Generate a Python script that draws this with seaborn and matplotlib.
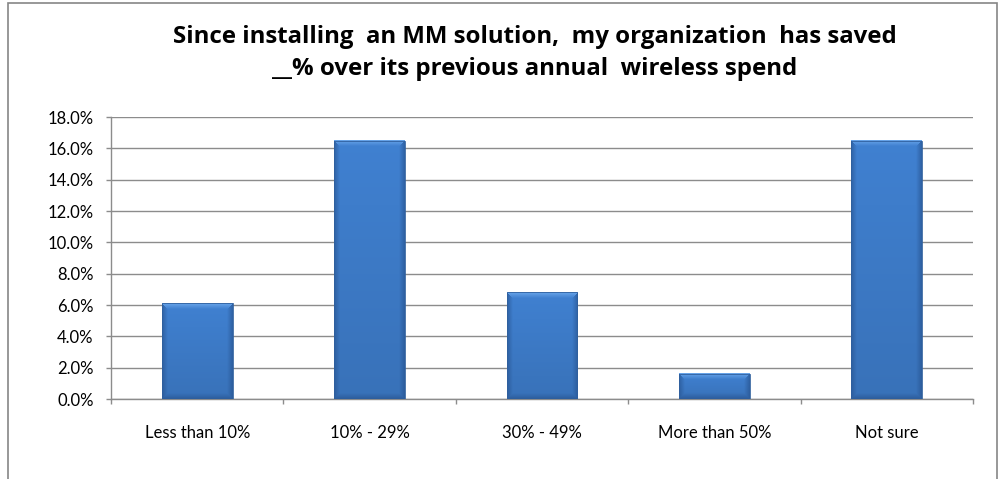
import numpy as np
import pandas as pd
import matplotlib
matplotlib.use("Agg")
import matplotlib.pyplot as plt
import seaborn as sns
from matplotlib.patches import Rectangle
from matplotlib.ticker import FuncFormatter, MultipleLocator
from matplotlib.colors import to_rgb

categories = ["Less than 10%", "10% - 29%", "30% - 49%", "More than 50%", "Not sure"]
values = [6.1, 16.5, 6.8, 1.6, 16.5]
title = "Since installing  an MM solution,  my organization  has saved\n__% over its previous annual  wireless spend"

sns.set_theme(style="white")
plt.rcParams['font.family'] = ['Lato', 'DejaVu Sans']

df = pd.DataFrame({"category": categories, "value": values})

fig = plt.figure(figsize=(9.99, 4.79), dpi=100)
ax = fig.add_axes([111/999, 1-399/479, (973-111)/999, (399-117)/479])

sns.barplot(data=df, x="category", y="value", color="#3e7dcb", width=0.41,
            edgecolor="none", linewidth=0, saturation=1, ax=ax, zorder=3)

ax.set_xlim(-0.5, len(categories) - 0.5)
ax.set_ylim(0, 18)

# bevel shading image for each bar (styling only)
base = np.array(to_rgb("#3e7dcb"))
light = np.array(to_rgb("#6aa6ea"))
dark = np.array(to_rgb("#27538f"))
px_per_x = (973 - 111) / 5.0
px_per_y = (399 - 117) / 18.0
bev = 6.0
for p in ax.patches:
    x0, y0 = p.get_x(), p.get_y()
    w, h = p.get_width(), p.get_height()
    wp = max(int(round(w * px_per_x)), 2)
    hp = max(int(round(h * px_per_y)), 2)
    xx, yy = np.meshgrid(np.arange(wp) + 0.5, np.arange(hp) + 0.5)  # yy from top
    dl, dr, dt, db = xx, wp - xx, yy, hp - yy
    img = np.tile(base, (hp, wp, 1))
    t = (yy / hp)[..., None]
    img = img * (1.03 - 0.12 * t)
    side = np.minimum(dl, dr)
    mside = np.clip(1 - side / bev, 0, 1)[..., None]
    mbot = np.clip(1 - db / bev, 0, 1)[..., None]
    mtop = np.clip(1 - dt / bev, 0, 1)[..., None]
    topzone = (dt <= np.minimum(side, db))[..., None]
    img = np.where(topzone, img * (1 - mtop) + light * mtop,
                   img * (1 - np.maximum(mside, mbot) * 0.7) + dark * np.maximum(mside, mbot) * 0.7)
    img = np.clip(img, 0, 1)
    ax.imshow(img, aspect="auto", extent=[x0, x0 + w, y0, y0 + h],
              origin="upper", zorder=3.5, interpolation="bilinear")
    ax.add_patch(Rectangle((x0, y0), w, h, facecolor="none",
                           edgecolor="#30609e", linewidth=0.6, zorder=3.7))

ax.set_xlim(-0.5, len(categories) - 0.5)
ax.set_ylim(0, 18)
ax.yaxis.set_major_locator(MultipleLocator(2))
ax.yaxis.set_major_formatter(FuncFormatter(lambda v, _: f"{v:.1f}%"))
ax.grid(axis="y", color="#8c8c8c", linewidth=1, zorder=0)
ax.set_axisbelow(True)
ax.set_xlabel("")
ax.set_ylabel("")

for s in ["top", "right"]:
    ax.spines[s].set_visible(False)
for s in ["left", "bottom"]:
    ax.spines[s].set_color("#8c8c8c")
    ax.spines[s].set_linewidth(1)

ax.tick_params(axis="y", which="major", direction="out", length=3.6, color="#8c8c8c",
               width=1, labelsize=12, pad=9, left=True, labelcolor="#000000")
ax.set_xticks(range(len(categories)))
ax.set_xticklabels(categories)
ax.tick_params(axis="x", which="major", length=0, labelsize=12, pad=19,
               labelcolor="#000000")
ax.set_xticks(np.arange(-0.5, len(categories)), minor=True)
ax.tick_params(axis="x", which="minor", direction="out", length=3.6, color="#8c8c8c",
               width=1, bottom=True)

fig.text(535/999, 1 - 53/479, title, ha="center", va="center",
         fontsize=17.3, fontweight="bold", linespacing=1.4, color="#000000",
         family=["Open Sans", "DejaVu Sans"])

fig.add_artist(Rectangle((8/999, -0.05), (997-8)/999, 1.05 - 3/479,
                         transform=fig.transFigure, facecolor="none",
                         edgecolor="#868686", linewidth=1.2))

fig.savefig("out.png", dpi=100)
